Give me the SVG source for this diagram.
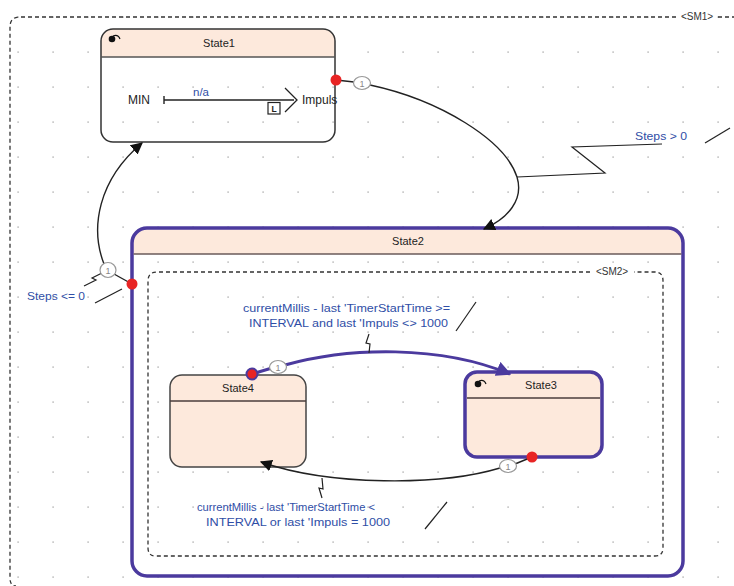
<svg xmlns="http://www.w3.org/2000/svg" width="734" height="586" viewBox="0 0 734 586">
  <defs>
    <pattern id="grid" patternUnits="userSpaceOnUse" x="0" y="0" width="35" height="35">
      <rect x="17.4" y="16.4" width="1.4" height="1.4" fill="#b0b0b0"/>
    </pattern>
    <marker id="arrowBlack" viewBox="0 0 10 10" refX="9" refY="5" markerWidth="12" markerHeight="12" markerUnits="userSpaceOnUse" orient="auto">
      <path d="M0 0 L10 5 L0 10 Z" fill="#111"/>
    </marker>
    <marker id="arrowPurple" viewBox="0 0 10 10" refX="9" refY="5" markerWidth="15" markerHeight="15" markerUnits="userSpaceOnUse" orient="auto">
      <path d="M0 0 L10 5 L0 10 Z" fill="#4b3a9e"/>
    </marker>
  </defs>
  <style>
    .title { font-family: "Liberation Sans", Arial, sans-serif; font-size: 11px; fill: #222; text-anchor: middle; }
    .lbl { font-family: "Liberation Sans", Arial, sans-serif; font-size: 12px; fill: #222; }
    .guard { font-family: "Liberation Sans", Arial, sans-serif; font-size: 11.5px; fill: #2f4ea6; }
    .sm { font-family: "Liberation Sans", Arial, sans-serif; font-size: 10px; fill: #333; }
    .frame { fill: none; stroke: #333; stroke-width: 1.3; stroke-dasharray: 4 3; }
    .hdr { fill: #fde9dc; }
    .edge { fill: none; stroke: #222; stroke-width: 1.4; }
    .thin { fill: none; stroke: #222; stroke-width: 1.2; }
    .pedge { fill: none; stroke: #4b3a9e; stroke-width: 3; }
    .prio { fill: #fff; stroke: #999; stroke-width: 1.2; }
    .prioTxt { font-family: "Liberation Sans", Arial, sans-serif; font-size: 9px; fill: #888; text-anchor: middle; }
    .src { fill: #e82424; }
  </style>

  <rect width="734" height="586" fill="#fff"/>
  <rect width="734" height="586" fill="url(#grid)"/>

  <!-- top-level region SM1 -->
  <g id="SM1">
    <path class="frame" d="M676 17 H20 Q10 17 10 27 V578 Q10 586 16 586"/>
    <path class="frame" d="M718 17 H734"/>
    <text class="sm" x="697" y="20" text-anchor="middle">&lt;SM1&gt;</text>
  </g>

  <!-- State1 -->
  <g id="State1">
    <path class="hdr" d="M101 57 V41 A12 12 0 0 1 113 29 H323 A12 12 0 0 1 335 41 V57 Z"/>
    <rect x="101" y="29" width="234" height="113" rx="12" fill="none" stroke="#333" stroke-width="1.5"/>
    <line x1="101" y1="57" x2="335" y2="57" stroke="#555" stroke-width="1.5"/>
    <circle cx="112" cy="39" r="3.3" fill="#111"/>
    <path d="M113 36 Q118 34 120 39" fill="none" stroke="#111" stroke-width="1.2"/>
    <text class="title" x="219" y="47">State1</text>
    <text class="lbl" x="128" y="104">MIN</text>
    <line x1="164" y1="96" x2="164" y2="104" stroke="#222" stroke-width="1.4"/>
    <line x1="164" y1="100" x2="294" y2="100" stroke="#222" stroke-width="1.4"/>
    <path d="M285 88 L297 100 L285 112" fill="none" stroke="#222" stroke-width="1.3"/>
    <text class="guard" x="201" y="96" text-anchor="middle">n/a</text>
    <rect x="268" y="102.5" width="12" height="11.5" fill="#fff" stroke="#222" stroke-width="1.2"/>
    <text x="274" y="111.5" font-family="Liberation Sans, Arial, sans-serif" font-size="8.5" font-weight="bold" fill="#222" text-anchor="middle">L</text>
    <text class="lbl" x="302" y="104">Impuls</text>
  </g>

  <!-- State2 -->
  <g id="State2">
    <path class="hdr" d="M132 254 V243 A15 15 0 0 1 147 228 H668 A15 15 0 0 1 683 243 V254 Z"/>
    <rect x="132" y="228" width="551" height="348" rx="15" fill="none" stroke="#4b3a9e" stroke-width="3.5"/>
    <line x1="133.5" y1="254" x2="681.5" y2="254" stroke="#6a5a5a" stroke-width="1.6"/>
    <text class="title" x="408" y="245">State2</text>
  </g>

  <!-- nested region SM2 -->
  <g id="SM2">
    <path class="frame" d="M590 272 H157 Q148 272 148 281 V548 Q148 556 156 556 H655 Q663 556 663 548 V281 Q663 272 655 272 H634"/>
    <text class="sm" x="612" y="275" text-anchor="middle">&lt;SM2&gt;</text>
  </g>

  <!-- State4 -->
  <g id="State4">
    <rect x="170" y="375" width="136" height="92" rx="12" fill="#fde9dc" stroke="#444" stroke-width="1.5"/>
    <line x1="170" y1="401" x2="306" y2="401" stroke="#4a3c3c" stroke-width="1.6"/>
    <text class="title" x="238" y="392">State4</text>
  </g>

  <!-- State3 -->
  <g id="State3">
    <rect x="465" y="372" width="137" height="85" rx="12" fill="#fde9dc" stroke="#4b3a9e" stroke-width="3.5"/>
    <line x1="467" y1="398" x2="600" y2="398" stroke="#4a3c3c" stroke-width="1.6"/>
    <circle cx="478" cy="384" r="3.3" fill="#111"/>
    <path d="M479 381 Q484 379 486 384" fill="none" stroke="#111" stroke-width="1.2"/>
    <text class="title" x="541" y="389">State3</text>
  </g>

  <!-- transitions -->
  <g id="connectors">
    <!-- State1 -> State2 -->
    <line class="edge" x1="336" y1="80" x2="354" y2="82"/>
    <path class="edge" d="M370 85 C440 100 505 140 517 177 C524 200 508 218 484 229" marker-end="url(#arrowBlack)"/>
    <path class="thin" d="M517 177 L605 173 L572 147 L662 144"/>
    <text class="guard" x="635" y="140" textLength="52" lengthAdjust="spacingAndGlyphs">Steps &gt; 0</text>
    <line class="thin" x1="705" y1="143" x2="730" y2="128"/>
    <circle class="src" cx="336" cy="80" r="5.5"/>
    <ellipse class="prio" cx="362" cy="83" rx="8.5" ry="6.5"/>
    <text class="prioTxt" x="362" y="86.5">1</text>

    <!-- State2 -> State1 -->
    <line class="edge" x1="132" y1="284" x2="114" y2="274"/>
    <path class="edge" d="M104 264 C90 228 98 180 142 143" marker-end="url(#arrowBlack)"/>
    <path class="thin" d="M102 273 L92 278 L96 280 L84 286"/>
    <text class="guard" x="27" y="300" textLength="58" lengthAdjust="spacingAndGlyphs">Steps &lt;= 0</text>
    <line class="thin" x1="95" y1="303" x2="122" y2="289"/>
    <ellipse class="prio" cx="108" cy="270" rx="8" ry="7.5"/>
    <text class="prioTxt" x="108" y="273.5">1</text>
    <circle class="src" cx="132" cy="284" r="5.5"/>

    <!-- State4 -> State3 -->
    <line class="pedge" x1="252" y1="374" x2="272" y2="368"/>
    <path class="pedge" d="M285 365 C350 347 440 345 510 374" marker-end="url(#arrowPurple)"/>
    <path class="thin" d="M369 353 L370 344 L366 343 L369 334"/>
    <text class="guard" x="243" y="312" textLength="207" lengthAdjust="spacingAndGlyphs">currentMillis -  last 'TimerStartTime &gt;=</text>
    <text class="guard" x="249" y="327" textLength="199" lengthAdjust="spacingAndGlyphs">INTERVAL and  last 'Impuls &lt;&gt; 1000</text>
    <line class="thin" x1="456" y1="331" x2="476" y2="302"/>
    <circle cx="252" cy="374" r="5.5" fill="#e82424" stroke="#4b3a9e" stroke-width="2"/>
    <ellipse class="prio" cx="278" cy="367" rx="8.5" ry="6.5"/>
    <text class="prioTxt" x="278" y="370.5">1</text>

    <!-- State3 -> State4 -->
    <line class="edge" x1="532" y1="457" x2="515" y2="464"/>
    <path class="edge" d="M500 468 C440 486 330 486 261 462" marker-end="url(#arrowBlack)"/>
    <path class="thin" d="M322 478 L323 489 L319 488 L322 498"/>
    <text class="guard" x="197" y="511" textLength="178" lengthAdjust="spacingAndGlyphs">currentMillis -  last 'TimerStartTime &lt;</text>
    <text class="guard" x="206" y="526" textLength="184" lengthAdjust="spacingAndGlyphs">INTERVAL or  last 'Impuls = 1000</text>
    <line class="thin" x1="425" y1="529" x2="447" y2="502"/>
    <ellipse class="prio" cx="508" cy="466" rx="8.5" ry="6.5"/>
    <text class="prioTxt" x="508" y="469.5">1</text>
    <circle class="src" cx="532" cy="457" r="5.5"/>
  </g>
</svg>
